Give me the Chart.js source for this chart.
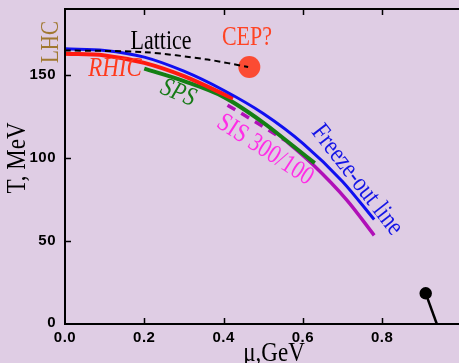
<!DOCTYPE html>
<html lang="en">

<head>
    <meta charset="UTF-8">
    <title>Freeze-out line</title>
    <script src="https://cdn.jsdelivr.net/npm/chart.js"></script>
    <style>
        html, body { margin: 0; padding: 0; overflow: hidden; background: #dfcde4; }
        .wrap { width: 459px; height: 363px; position: relative; }
        canvas { display: block; }
    </style>
</head>

<body>
    <div class="wrap"><canvas id="phaseChart"></canvas></div>

    <script>
        // Values (mu in GeV, T in MeV)
        const freezeMu = [0, 0.1, 0.2, 0.3, 0.4, 0.5, 0.6, 0.7, 0.78];
        const freezeT = [166, 165, 161, 152.5, 141, 127, 109, 86, 63];
        const rhicMu = [0, 0.1, 0.2, 0.3, 0.424];
        const rhicT = [163, 162, 157.5, 149.5, 136];
        const lhcMu = [0, 0.018];
        const lhcT = [163, 163];
        const spsMu = [0.2, 0.3, 0.4, 0.5, 0.567, 0.63];
        const spsT = [154, 146.5, 137, 121.5, 109, 97];
        const sisDashMu = [0.41, 0.48, 0.56];
        const sisDashT = [132, 122, 110];
        const sisMu = [0.56, 0.626, 0.71, 0.78];
        const sisT = [110, 96, 75, 53.5];
        const latticeMu = [0, 0.2, 0.36, 0.462];
        const latticeT = [165, 164, 159.5, 155];
        const cepMu = [0.465];
        const cepT = [155];
        const nuclearMu = [0.91, 0.938];
        const nuclearT = [18.5, 0];

        const xTicks = [0, 0.2, 0.4, 0.6, 0.8];
        const xTickLabels = ['0.0', '0.2', '0.4', '0.6', '0.8'];
        const yTicks = [0, 50, 100, 150];
        const yTickLabels = ['0', '50', '100', '150'];

        function pts(xs, ys) {
            return xs.map((x, i) => ({ x: x, y: ys[i] }));
        }

        function curve(data, color, width, extra) {
            return Object.assign({
                data: data,
                borderColor: color,
                backgroundColor: color,
                borderWidth: width,
                pointRadius: 0,
                showLine: true,
                fill: false,
                cubicInterpolationMode: 'monotone'
            }, extra || {});
        }

        // axes, ticks and the labels written on the plot
        const decorations = {
            id: 'decorations',
            afterDatasetsDraw(chart) {
                const ctx = chart.ctx;
                const xs = chart.scales.x, ys = chart.scales.y;
                const a = chart.chartArea;
                ctx.save();
                ctx.strokeStyle = '#000';
                ctx.lineWidth = 2;
                ctx.beginPath();
                ctx.moveTo(a.left, a.top);
                ctx.lineTo(a.left, a.bottom);
                ctx.moveTo(a.left - 1, a.bottom);
                ctx.lineTo(a.right, a.bottom);
                ctx.moveTo(a.left - 1, a.top);
                ctx.lineTo(a.right, a.top);
                ctx.stroke();

                ctx.lineWidth = 1.5;
                ctx.beginPath();
                xTicks.forEach(v => {
                    if (v === 0) return;
                    const px = Math.round(xs.getPixelForValue(v)) + 0.5;
                    ctx.moveTo(px, a.bottom);
                    ctx.lineTo(px, a.bottom - 6);
                    ctx.moveTo(px, a.top);
                    ctx.lineTo(px, a.top + 6);
                });
                yTicks.forEach(v => {
                    if (v === 0) return;
                    const py = Math.round(ys.getPixelForValue(v)) + 0.5;
                    ctx.moveTo(a.left, py);
                    ctx.lineTo(a.left + 6, py);
                });
                ctx.stroke();

                ctx.fillStyle = '#000';
                ctx.font = 'bold 15px "Liberation Sans", Arial, sans-serif';
                ctx.letterSpacing = '0.5px';
                ctx.textAlign = 'center';
                ctx.textBaseline = 'middle';
                xTicks.forEach((v, i) => {
                    ctx.fillText(xTickLabels[i], xs.getPixelForValue(v), 338);
                });
                ctx.textAlign = 'right';
                yTicks.forEach((v, i) => {
                    const py = ys.getPixelForValue(v);
                    ctx.fillText(yTickLabels[i], 56, v === 0 ? py - 1 : py);
                });
                ctx.letterSpacing = '0px';
                ctx.restore();

                const serif = '"Liberation Serif", "Times New Roman", serif';
                const label = (text, x, y, angle, size, color, italic) => {
                    ctx.save();
                    ctx.translate(x, y);
                    ctx.rotate(angle * Math.PI / 180);
                    ctx.scale(1, 1.2);
                    ctx.font = (italic ? 'italic ' : '') + size + 'px ' + serif;
                    ctx.fillStyle = color;
                    ctx.textAlign = 'center';
                    ctx.textBaseline = 'middle';
                    ctx.fillText(text, 0, 0);
                    ctx.restore();
                };
                label('T, MeV', 18, 158, -90, 23, '#000');
                label('\u03bc,GeV', 274, 354, 0, 23, '#000');
                label('LHC', 51, 42, -90, 21, '#a07830');
                label('Lattice', 161, 42, 0, 22, '#000');
                label('CEP?', 247, 38, 0, 22, '#ff4424');
                label('RHIC', 115, 69, 0, 23, '#ff3a1c', true);
                label('SPS', 178, 93, 22, 22, '#167a16', true);
                label('SIS 300/100', 265, 150, 33, 22, '#ff2ee6');
                label('Freeze-out line', 357, 180, 52, 22, '#1414e6');
            }
        };

        const ctx = document.getElementById('phaseChart').getContext('2d');
        new Chart(ctx, {
            type: 'scatter',
            data: {
                datasets: [
                    curve(pts(latticeMu, latticeT), '#000', 2, { borderDash: [6, 4], cubicInterpolationMode: 'default', tension: 0.3 }),
                    curve(pts(freezeMu, freezeT), '#1010f0', 3),
                    curve(pts(rhicMu, rhicT), '#ff1a10', 4),
                    curve(pts(lhcMu, lhcT), '#f0906c', 4),
                    curve(pts(spsMu, spsT), '#147f14', 4),
                    curve(pts(sisDashMu, sisDashT), '#b010b8', 3.5, { borderDash: [9, 7] }),
                    curve(pts(sisMu, sisT), '#b010b8', 3.5),
                    {
                        data: pts(cepMu, cepT),
                        pointRadius: 11,
                        pointBackgroundColor: '#fb4b33',
                        pointBorderWidth: 0,
                        showLine: false
                    },
                    curve(pts(nuclearMu, nuclearT), '#000', 2.5, {
                        cubicInterpolationMode: 'default',
                        pointRadius: [5, 0],
                        pointBackgroundColor: '#000'
                    })
                ]
            },
            options: {
                responsive: true,
                maintainAspectRatio: false,
                animation: false,
                layout: { autoPadding: false, padding: { left: 65, top: 9, right: 0, bottom: 39 } },
                plugins: {
                    legend: { display: false },
                    tooltip: { enabled: false }
                },
                scales: {
                    x: { type: 'linear', min: 0, max: 0.994, display: false },
                    y: { type: 'linear', min: 0, max: 190, display: false }
                }
            },
            plugins: [decorations]
        });
    </script>
</body>

</html>
